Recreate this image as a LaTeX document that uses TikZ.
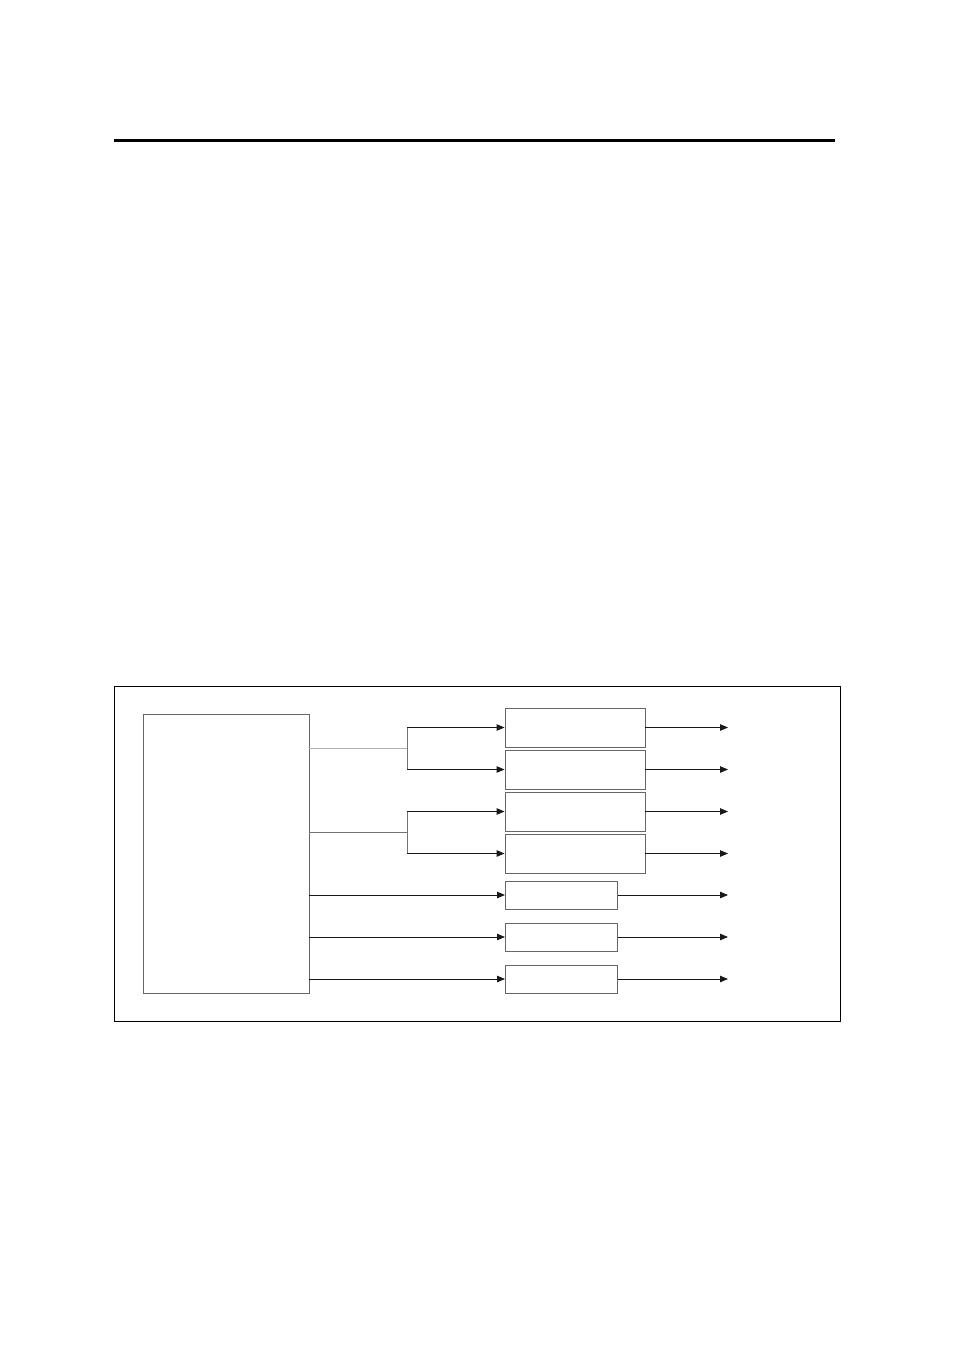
\documentclass[tikz,border=0pt]{standalone}
\usetikzlibrary{positioning}
\usetikzlibrary{arrows.meta}
\tikzset{
>={Triangle[length=8pt,width=6.5pt]}, % filled triangle tips
my box/.style={draw=black!60,line width=0.9pt,inner sep=0pt,minimum width=140pt,minimum height=39pt},
my small box/.style={my box,minimum width=112pt,minimum height=28pt},
my source/.style={draw=black!60,line width=0.9pt,inner sep=0pt,minimum width=166pt,minimum height=279pt},
sig/.style={->,draw=black!90,line width=0.9pt},
feed/.style={draw=black!55,line width=0.9pt},
}
\begin{document}
\begin{tikzpicture}[x=1pt,y=-1pt]
\useasboundingbox (0,0) rectangle (954,1351);
\draw[line width=3pt] (114,141) -- (835,141);
\draw[line width=0.8pt] (114.5,686.5) rectangle (840.5,1021);

\node[my source] (src) at (226,853.5) {};
\node[my box] (b1) at (575,727.5) {};
\node[my box,below=2.1pt of b1] (b2) {};
\node[my box,below=2.1pt of b2] (b3) {};
\node[my box,below=2.1pt of b3] (b4) {};
\node[my small box,anchor=west] (b5) at (505,895) {};
\node[my small box,below=13.1pt of b5] (b6) {};
\node[my small box,below=13.1pt of b6] (b7) {};

\coordinate (s1) at (407,748);
\coordinate (s2) at (407,832);
\coordinate (out) at (728,0);

% split lines
\draw[feed,black!30] (src.east |- s1) -- (s1);
\draw[feed] (src.east |- s2) -- (s2);
\draw[feed] (b1.west -| s1) -- (b2.west -| s1);
\draw[feed] (b3.west -| s2) -- (b4.west -| s2);
\foreach \b in {b1,b2} \draw[sig] (\b.west -| s1) -- (\b.west);
\foreach \b in {b3,b4} \draw[sig] (\b.west -| s2) -- (\b.west);
\foreach \b in {b5,b6,b7} \draw[sig] (src.east |- \b.west) -- (\b.west);
% outputs
\foreach \b in {b1,b2,b3,b4,b5,b6,b7} \draw[sig] (\b.east) -- (\b.east -| out);
\end{tikzpicture}
\end{document}
